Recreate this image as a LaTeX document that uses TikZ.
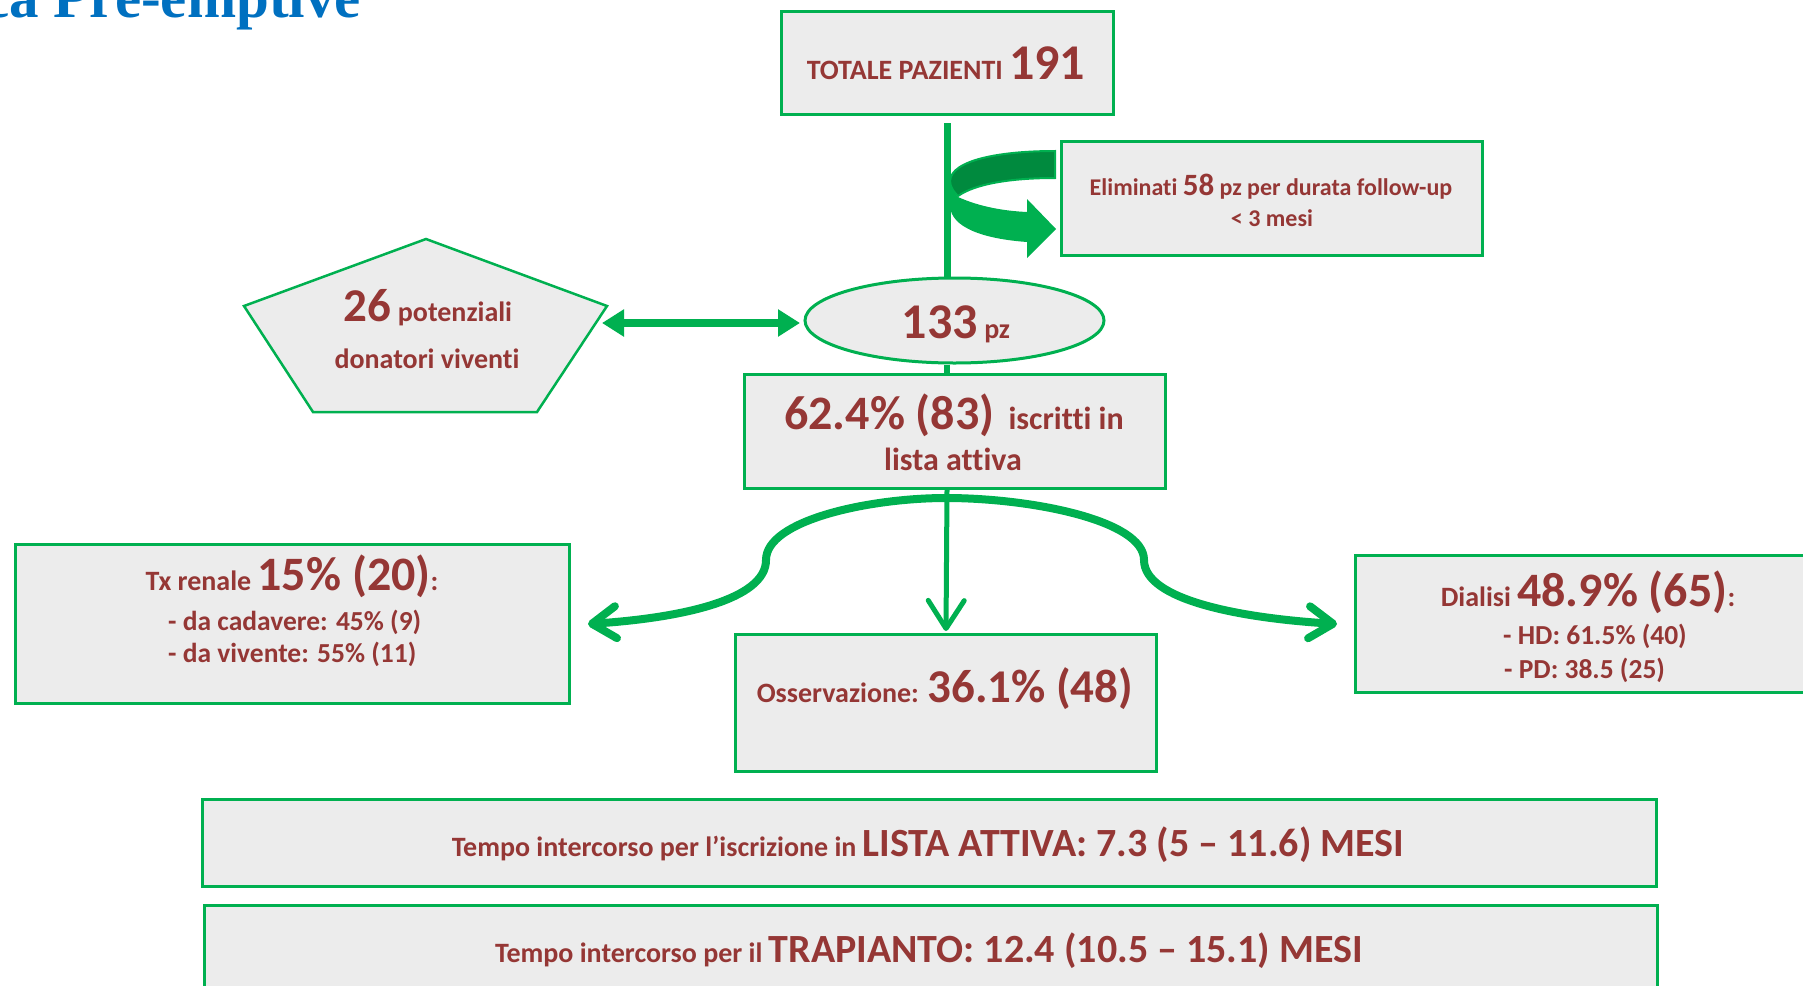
\documentclass[tikz,border=0pt]{standalone}
\usepackage{fontspec}
\setmainfont{Carlito}[Ligatures=NoCommon]
\newfontfamily\titlefont{Liberation Serif}
\usetikzlibrary{arrows.meta,shapes.geometric}
\definecolor{grn}{HTML}{00B050}
\definecolor{dkgrn}{HTML}{008A3E}
\definecolor{txtred}{HTML}{953735}
\definecolor{boxgray}{HTML}{ECECEC}
\definecolor{ttlblue}{HTML}{0070C0}
\newcommand\sz[1]{\fontsize{#1pt}{#1pt}\selectfont}
\begin{document}
\begin{tikzpicture}[x=1pt,y=-1pt,
  box/.style={draw=grn, line width=3pt, fill=boxgray, inner sep=0pt},
  txt/.style={text=txtred, font=\bfseries, inner sep=0pt, anchor=base},
  vconn/.style={draw=grn, line width=7pt},
  curvearrow/.style={draw=grn, line width=8pt, -{Straight Barb[length=24pt,width=32pt,round]}},
  midarrow/.style={draw=grn, line width=5pt, -{Straight Barb[length=28pt,width=36pt,round]}},
  dblarrow/.style={draw=grn, line width=8pt, {Triangle[length=22pt,width=26pt]}-{Triangle[length=22pt,width=26pt]}}]
\useasboundingbox (0,0) rectangle (1803,985);

% title (cut off at the top)
\node[anchor=base east, text=ttlblue, font=\titlefont\bfseries\sz{59}, inner sep=0pt] (title) at (361,17) {ca Pre-emptive};

% boxes
\node[box, minimum width=332pt, minimum height=103pt] (tot) at (947,62.5) {};
\node[box, minimum width=421pt, minimum height=114pt] (elim) at (1271.5,198) {};
\node[box, ellipse, minimum width=299pt, minimum height=85pt] (ell) at (954.5,320.5) {};
\node[box, minimum width=421pt, minimum height=114pt] (lista) at (954.5,431) {};
\node[box, minimum width=554pt, minimum height=159pt] (tx) at (292,623.5) {};
\node[box, minimum width=421pt, minimum height=137pt] (oss) at (945.5,702.5) {};
\node[box, minimum width=465pt, minimum height=137pt] (dial) at (1587.5,623.5) {};
\node[box, minimum width=1454pt, minimum height=87pt] (b1) at (929,842.5) {};
\node[box, minimum width=1453pt, minimum height=87pt] (b2) at (930.5,948.5) {};

% pentagon
\filldraw[draw=grn, line width=2.5pt, fill=boxgray] (426,239) -- (607,306) -- (537,412) -- (313,412) -- (244,306) -- cycle;

% connectors
\coordinate (t1) at (947,123);
\draw[vconn] (t1) -- (t1 |- ell.north);
\draw[draw=grn, line width=6pt] (t1 |- ell.south) -- (t1 |- lista.north);
\coordinate (ctop) at (946,498);
\coordinate (ltip) at (588,624);
\coordinate (rtip) at (1337,624);
\coordinate (mtip) at (946,631);
\draw[midarrow] (t1 |- lista.south) -- (mtip);
\draw[curvearrow] (ctop) .. controls (870,498) and (766,520) .. (766,560) .. controls (766,600) and (680,618) .. (ltip);
\draw[curvearrow] (ctop) .. controls (1030,498) and (1144,520) .. (1144,560) .. controls (1144,600) and (1240,618) .. (rtip);
\coordinate (pArr) at (602,323);
\coordinate (eArr) at (800,323);
\draw[dblarrow] (pArr) -- (eArr);

% curved block arrow
\fill[grn] (950,182) .. controls (952,190) and (955,194) .. (958,197) .. controls (980,207) and (1005,211) .. (1027,212) -- (1027,199) -- (1056,229) -- (1027,258) -- (1027,242) .. controls (985,239) and (950,228) .. (950,205) -- cycle;
\filldraw[fill=dkgrn, draw=grn, line width=2pt] (1055,151) .. controls (1000,151) and (951,160) .. (950,181) .. controls (950,188) and (955,193) .. (958,196) .. controls (975,184) and (1010,178) .. (1055,178) -- cycle;

% texts
\node[txt] (totT) at (946,79) {\sz{28}TOTALE PAZIENTI \sz{50}191};
\node[txt] (elimA) at (1271,195) {\sz{24}Eliminati \sz{31}58\sz{24} pz per durata follow-up};
\node[txt] (elimB) at (1272,226) {\sz{24}< 3 mesi};
\node[txt] (ellT) at (956,338) {\sz{50}133\sz{28} pz};
\node[txt] (pentA) at (428,321) {\sz{47}26\sz{28} potenziali};
\node[txt] (pentB) at (427,368) {\sz{28}donatori viventi};
\node[txt] (listaA) at (954,429) {\sz{48}62.4\% (83)\sz{32}\hspace{14pt}iscritti in};
\node[txt] (listaB) at (953,470) {\sz{32}lista attiva};
\node[txt] (txA) at (292,590) {\sz{28}Tx renale \sz{48}15\% (20)\sz{28}:};
\node[txt, anchor=base west] (txB) at (168,630) {\sz{27.5}- da cadavere: 45\% (9)};
\node[txt, anchor=base west] (txC) at (168,662) {\sz{27.5}- da vivente: 55\% (11)};
\node[txt] (ossT) at (945,702) {\sz{28}Osservazione: \sz{47}36.1\% (48)};
\node[txt] (dialA) at (1588,606) {\sz{28}Dialisi \sz{48}48.9\% (65)\sz{28}:};
\node[txt, anchor=base west] (dialB) at (1503,644) {\sz{27.5}- HD: 61.5\% (40)};
\node[txt, anchor=base west] (dialC) at (1504,678) {\sz{27.5}- PD: 38.5 (25)};
\node[txt] (b1T) at (928,856) {\sz{28}Tempo intercorso per l’iscrizione in \sz{40}LISTA ATTIVA: 7.3 (5 – 11.6) MESI};
\node[txt] (b2T) at (929,962) {\sz{28}Tempo intercorso per il \sz{40}TRAPIANTO: 12.4 (10.5 – 15.1) MESI};
\end{tikzpicture}
\end{document}
